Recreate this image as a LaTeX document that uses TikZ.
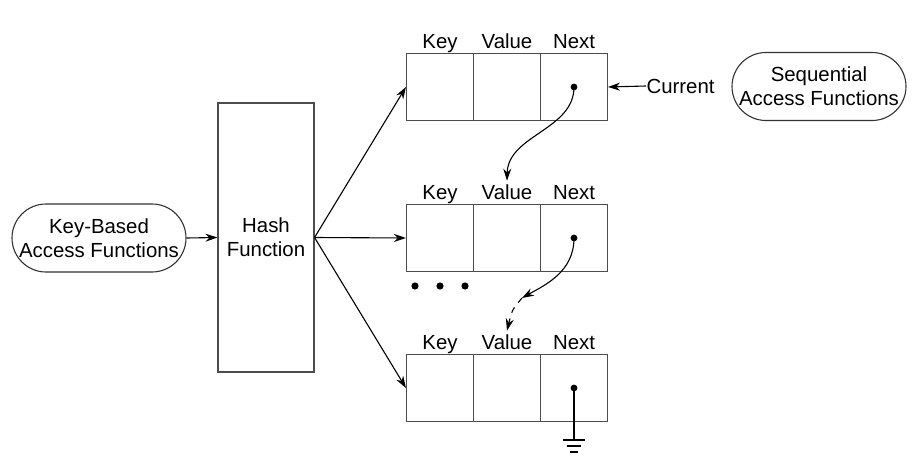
\documentclass[tikz,border=0pt]{standalone}
\usepackage{fontspec}
\setmainfont{Liberation Sans}
\usetikzlibrary{arrows.meta,shapes.misc}

\tikzset{
    every node/.style={font=\fontsize{10.2}{12}\selectfont},
    tip/.style={-{Stealth[length=6pt,width=4pt]}},
    cell/.style={draw=black!70, minimum width=33.5pt, minimum height=33.5pt, inner sep=0pt},
    oval/.style={draw=black!80, rounded rectangle, minimum width=89pt, minimum height=34pt, align=center, inner sep=1pt},
    dot/.style={circle, fill, inner sep=0pt, minimum size=3.4pt},
    head/.style={anchor=base, inner sep=0pt}
}

\begin{document}
\begin{tikzpicture}[x=0.5pt, y=-0.5pt, line width=0.55pt]
    \useasboundingbox (0,0) rectangle (918,466);
    \node[oval] (kb) at (99,238) {Key-Based\\Access Functions};
    \node[draw=black!70, minimum width=48pt, minimum height=134.5pt, align=center] (hash) at (266,237.5) {Hash\\Function};
    \node[oval] (seq) at (819,86.5) {Sequential\\Access Functions};
    \foreach \r/\y in {1/87, 2/238, 3/388} {
        \node[cell] (k\r) at (440,\y) {};
        \node[cell] (v\r) at (507,\y) {};
        \node[cell] (n\r) at (574,\y) {};
        \node[head] (lk\r) at (440,\y-39) {Key};
        \node[head] (lv\r) at (507,\y-39) {Value};
        \node[head] (ln\r) at (574,\y-39) {Next};
        \node[dot] (p\r) at (n\r.center) {};
        \draw[tip] (hash.east) -- (k\r.west);
    }
    \draw[tip] (kb.east) -- (hash.west);
    \node[anchor=west, inner sep=0pt] (cur) at (646,86) {Current};
    \draw[tip] (cur.west) -- (n1.east);
    \foreach \i in {415,440,465}
        \node[dot, minimum size=3.6pt] (d\i) at (\i,286) {};
    \draw[tip] (p1.center) .. controls (574,130) and (508,135) .. ([yshift=1.5pt]lv2.north);
    \coordinate (mid) at (522,298);
    \draw[tip] (p2.center) .. controls (574,272) and (545,285) .. (mid);
    \draw[tip, dashed] (mid) .. controls (512,310) .. ([yshift=1.5pt]lv3.north);
    \coordinate (gnd) at (574,440);
    \draw (p3.center) -- (gnd);
    \draw ([xshift=-5.5pt]gnd) -- ([xshift=5.5pt]gnd);
    \draw ([xshift=-3.5pt,yshift=-3pt]gnd) -- ([xshift=3.5pt,yshift=-3pt]gnd);
    \draw ([xshift=-2pt,yshift=-6pt]gnd) -- ([xshift=2pt,yshift=-6pt]gnd);
\end{tikzpicture}
\end{document}
